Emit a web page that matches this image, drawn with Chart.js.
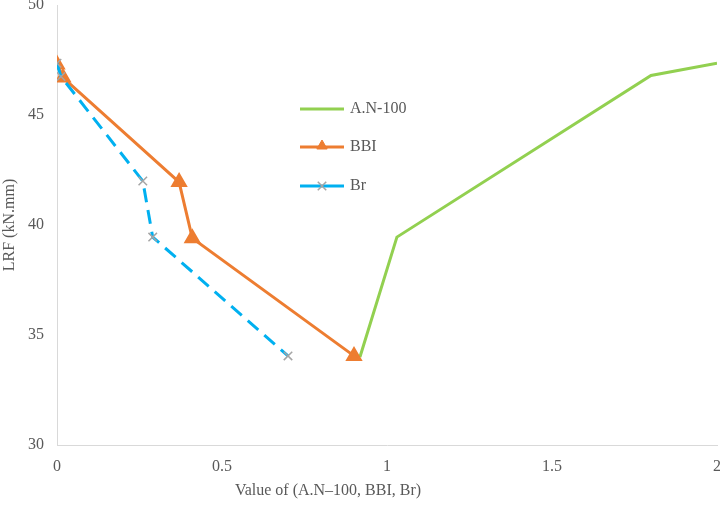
<!DOCTYPE html>
<html>
<head>
<meta charset="utf-8">
<script src="https://cdn.jsdelivr.net/npm/chart.js@4.4.1/dist/chart.umd.min.js"></script>
<style>
  body { margin: 0; background: #fff; }
  #wrap { width: 720px; height: 507px; }
</style>
</head>
<body>
<div id="wrap"><canvas id="myChart"></canvas></div>
<script>
// series
const anX = [0.918, 1.03, 1.8, 2.0];
const anY = [34.0, 39.45, 46.8, 47.35];
const bbiX = [0, 0.018, 0.37, 0.41, 0.9];
const bbiY = [47.3, 46.7, 41.95, 39.4, 34.05];
const brX = [0, 0.012, 0.26, 0.29, 0.70];
const brY = [47.35, 46.75, 42.0, 39.45, 34.05];
const seriesNames = ["A.N-100", "BBI", "Br"];
const xTicks = [0, 0.5, 1, 1.5, 2];
const yTicks = [30, 35, 40, 45, 50];

const GREEN = "#92D050";
const ORANGE = "#ED7D31";
const BLUE = "#00B0F0";
const GREY = "#A5A5A5";
const TEXT = "#595959";
const FONT = "'Liberation Serif', 'Times New Roman', serif";

function pts(xs, ys) {
  return xs.map((x, i) => ({ x: x, y: ys[i] }));
}

// legend + x title drawn by hand (they sit inside / offset in the original)
const extras = {
  id: "extras",
  afterDraw(chart) {
    const ctx = chart.ctx;
    const rows = [
      { y: 109, color: GREEN, marker: null },
      { y: 147, color: ORANGE, marker: "triangle" },
      { y: 186, color: BLUE, marker: "crossRot" },
    ];
    ctx.save();
    rows.forEach((r, i) => {
      ctx.strokeStyle = r.color;
      ctx.lineWidth = 3;
      ctx.beginPath();
      ctx.moveTo(300, r.y);
      ctx.lineTo(344, r.y);
      ctx.stroke();
      if (r.marker === "triangle") {
        ctx.fillStyle = ORANGE;
        ctx.strokeStyle = ORANGE;
        ctx.lineWidth = 1;
        Chart.helpers.drawPoint(ctx, { pointStyle: "triangle", radius: 6, borderWidth: 1 }, 322, r.y - 1);
      } else if (r.marker === "crossRot") {
        ctx.strokeStyle = GREY;
        ctx.lineWidth = 1.5;
        Chart.helpers.drawPoint(ctx, { pointStyle: "crossRot", radius: 6, borderWidth: 1.5 }, 322, r.y);
      }
      ctx.fillStyle = TEXT;
      ctx.font = "16px " + FONT;
      ctx.textAlign = "left";
      ctx.textBaseline = "middle";
      ctx.fillText(seriesNames[i], 350, r.y);
    });
    ctx.textAlign = "center";
    ctx.fillText("Value of (A.N\u2013100, BBI, Br)", 328, 491);
    ctx.restore();
  },
};

window.onload = function graph() {
  const ctx = document.getElementById("myChart").getContext("2d");
  const myChart = new Chart(ctx, {
    type: "scatter",
    data: {
      datasets: [
        {
          label: seriesNames[0],
          data: pts(anX, anY),
          showLine: true,
          borderColor: GREEN,
          borderWidth: 3,
          pointRadius: 0,
          order: 2,
        },
        {
          label: seriesNames[1],
          data: pts(bbiX, bbiY),
          showLine: true,
          borderColor: ORANGE,
          borderWidth: 3,
          pointStyle: "triangle",
          pointRadius: 7,
          pointBackgroundColor: ORANGE,
          pointBorderColor: ORANGE,
          order: 1,
        },
        {
          label: seriesNames[2],
          data: pts(brX, brY),
          showLine: true,
          borderColor: BLUE,
          borderWidth: 3,
          borderDash: [14, 8],
          pointStyle: "crossRot",
          pointRadius: 6,
          pointBorderColor: GREY,
          pointBorderWidth: 1.5,
          order: 0,
        },
      ],
    },
    options: {
      responsive: true,
      maintainAspectRatio: false,
      animation: false,
      layout: { autoPadding: false, padding: { top: 5, right: 3 } },
      plugins: { legend: { display: false }, tooltip: { enabled: false } },
      scales: {
        x: {
          type: "linear",
          min: 0,
          max: 2,
          afterBuildTicks: (s) => { s.ticks = xTicks.map((v) => ({ value: v })); },
          afterFit: (s) => { s.height = 62; s.paddingRight = 0; s.paddingLeft = 0; },
          grid: { display: false, drawTicks: false },
          border: { color: "#D9D9D9", width: 1 },
          ticks: {
            color: TEXT,
            font: { family: FONT, size: 16 },
            padding: 12,
            maxRotation: 0,
            callback: (v) => String(v),
          },
        },
        y: {
          min: 30,
          max: 50,
          afterBuildTicks: (s) => { s.ticks = yTicks.map((v) => ({ value: v })); },
          afterFit: (s) => { s.width = 57; s.paddingTop = 0; s.paddingBottom = 0; },
          grid: { display: false, drawTicks: false },
          border: { color: "#D9D9D9", width: 1 },
          title: { display: true, text: "LRF (kN.mm)", color: TEXT, font: { family: FONT, size: 16 }, padding: 0 },
          ticks: { color: TEXT, font: { family: FONT, size: 16 }, padding: 13 },
        },
      },
    },
    plugins: [extras],
  });
};
</script>
</body>
</html>
